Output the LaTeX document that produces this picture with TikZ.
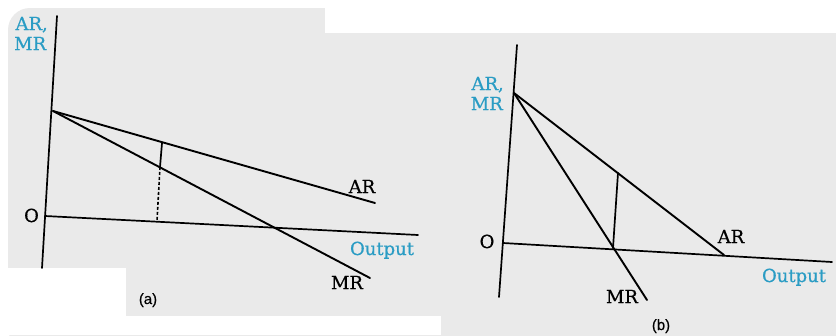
\documentclass[tikz,border=0pt]{standalone}
\usepackage{fontspec}
\setmainfont{DejaVu Serif}
\newfontfamily\lblfont{DejaVu Serif}[FakeBold=0.6]
\newfontfamily\capfont{Liberation Sans}[FakeBold=0.4]
\definecolor{lblblue}{HTML}{2A9CC4}
\definecolor{paper}{HTML}{EAEAEA}
\begin{document}
\begin{tikzpicture}[x=1pt,y=-1pt,
  axisline/.style={line width=1.7pt, line cap=round},
  curveline/.style={line width=1.9pt, line cap=round},
  lbl/.style={font=\lblfont\fontsize{18}{21}\selectfont, inner sep=0pt, anchor=base},
  bluelbl/.style={lbl, text=lblblue},
  panellbl/.style={font=\capfont\fontsize{15}{17}\selectfont, inner sep=0pt, anchor=base}]
\useasboundingbox (0,0) rectangle (836,335);
% paper background
\fill[white] (0,0) rectangle (836,335);
\fill[paper, rounded corners=22pt] (8,8) rectangle (850,350);
\fill[white] (325,0) rectangle (836,33);
\fill[white] (0,268) rectangle (126,335);
\fill[white] (0,316) rectangle (441,335);

% ---------- panel (a) ----------
\coordinate (aYt) at (57,16);
\coordinate (aYb) at (42,268);
\coordinate (aXl) at (45,216);
\coordinate (aXr) at (418,235);
\coordinate (aP) at (53,111);
\coordinate (aARe) at (375,203);
\coordinate (aMRe) at (370,278);
\coordinate (aV1) at (162,143);
\coordinate (aV2) at (160,167);
\coordinate (aV3) at (157,221);
\draw[axisline] (aYt) -- (aYb);
\draw[axisline] (aXl) -- (aXr);
\draw[curveline] (aP) -- (aARe);
\draw[curveline] (aP) -- (aMRe);
\draw[axisline] (aV1) -- (aV2);
\draw[line width=1.6pt, dash pattern=on 3pt off 2pt] (aV2) -- (aV3);
\node[bluelbl, anchor=base east] (aAR) at (48,30) {AR,};
\node[bluelbl, anchor=base west] (aMR) at (14,50) {MR};
\node[lbl] (aO) at (31.5,222) {O};
\node[lbl] (aARl) at (362,193) {AR};
\node[lbl] (aMRl) at (347,289) {MR};
\node[bluelbl] (aOut) at (382,255) {Output};
\node[panellbl] (aCap) at (148,304) {(a)};

% ---------- panel (b) ----------
\coordinate (bYt) at (517,45);
\coordinate (bYb) at (499,297);
\coordinate (bXl) at (503,243);
\coordinate (bXr) at (832,262);
\coordinate (bP) at (514,93);
\coordinate (bARe) at (724,255);
\coordinate (bMRe) at (647,300);
\coordinate (bV1) at (618,173);
\coordinate (bV2) at (613,248);
\draw[axisline] (bYt) -- (bYb);
\draw[axisline] (bXl) -- (bXr);
\draw[curveline] (bP) -- (bARe);
\draw[curveline] (bP) -- (bMRe);
\draw[axisline] (bV1) -- (bV2);
\node[bluelbl, anchor=base east] (bAR) at (504,90) {AR,};
\node[bluelbl, anchor=base east] (bMR) at (503,110) {MR};
\node[lbl] (bO) at (487,248) {O};
\node[lbl] (bARl) at (731,243) {AR};
\node[lbl] (bMRl) at (622,303) {MR};
\node[bluelbl] (bOut) at (794,282) {Output};
\node[panellbl] (bCap) at (661,330) {(b)};
\end{tikzpicture}
\end{document}
